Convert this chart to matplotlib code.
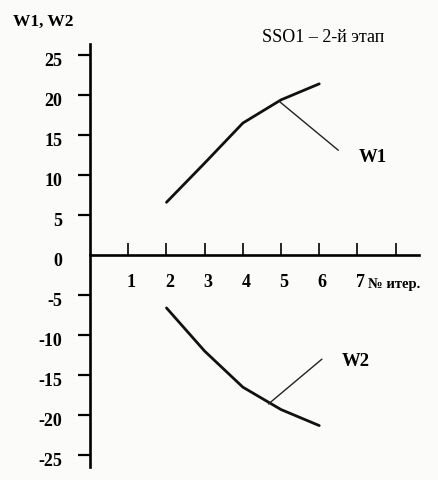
import matplotlib
matplotlib.use('Agg')
import matplotlib.pyplot as plt
import matplotlib.transforms as mtransforms
import numpy as np

# данные
iters = [2, 3, 4, 5, 6]
w1 = [6.6, 11.5, 16.5, 19.4, 21.4]
w2 = [-6.6, -12.0, -16.5, -19.3, -21.3]

x_ticks = [1, 2, 3, 4, 5, 6, 7, 8]
x_labels = ['1', '2', '3', '4', '5', '6', '7', '']
y_ticks = [-25, -20, -15, -10, -5, 0, 5, 10, 15, 20, 25]

plt.rcParams['font.family'] = ['Liberation Serif', 'DejaVu Serif']

fig = plt.figure(figsize=(4.38, 4.81), dpi=100, facecolor='#fbfbf9')
ax = fig.add_axes([0, 0, 1, 1])
ax.set_facecolor('#fbfbf9')

# оси пересекаются в нуле
ax.set_xlim(-2.36, 9.11)
ax.set_ylim(-28.1, 32.0)
ax.spines['top'].set_visible(False)
ax.spines['right'].set_visible(False)
ax.spines['left'].set_position(('data', 0))
ax.spines['bottom'].set_position(('data', 0))
ax.spines['left'].set_bounds(-26.5, 26.4)
ax.spines['bottom'].set_bounds(0, 8.6)
ax.spines['left'].set_linewidth(1.9)
ax.spines['bottom'].set_linewidth(1.9)

ax.set_xticks(x_ticks)
ax.set_xticklabels(x_labels, fontweight='bold', fontsize=13)
ax.tick_params(axis='x', direction='in', length=9, width=1.2, pad=13)
ax.set_yticks(y_ticks)
ax.set_yticklabels([str(v) for v in y_ticks], fontweight='bold', fontsize=13)
ax.tick_params(axis='y', direction='out', length=9, width=1.6, pad=11)
ax.yaxis.get_major_ticks()[y_ticks.index(0)].tick1line.set_visible(False)

# сдвиг подписей чуть вправо / вниз, как в оригинале
dx = mtransforms.ScaledTranslation(3 / 100, 0, fig.dpi_scale_trans)
for lbl in ax.get_xticklabels():
    lbl.set_transform(lbl.get_transform() + dx)
dy = mtransforms.ScaledTranslation(0, -3 / 100, fig.dpi_scale_trans)
for lbl in ax.get_yticklabels():
    lbl.set_transform(lbl.get_transform() + dy)

# кривые
ax.plot(iters, w1, color='#111111', lw=2.0, solid_capstyle='round')
ax.plot(iters, w2, color='#111111', lw=2.0, solid_capstyle='round')

# выноски
ax.annotate('', xy=(4.93, 19.3), xytext=(6.5, 13.1),
            arrowprops=dict(arrowstyle='-', lw=1.0, color='#222222',
                            shrinkA=0, shrinkB=0))
ax.annotate('', xy=(4.67, -18.6), xytext=(6.07, -13.0),
            arrowprops=dict(arrowstyle='-', lw=1.0, color='#222222',
                            shrinkA=0, shrinkB=0))
ax.text(7.03, 12.3, 'W1', fontsize=13.5, fontweight='bold',
        ha='left', va='center')
ax.text(6.6, -13.2, 'W2', fontsize=13.5, fontweight='bold',
        ha='left', va='center')

ax.text(7.28, -3.6, '№ итер.', fontsize=10.5, fontweight='bold',
        ha='left', va='center')
ax.text(-2.02, 29.3, 'W1, W2', fontsize=12.5, fontweight='bold',
        ha='left', va='center')
ax.text(6.1, 27.3, 'SSO1 – 2-й этап', fontsize=13, ha='center', va='center')

fig.savefig('out.png', dpi=100, facecolor=fig.get_facecolor())
